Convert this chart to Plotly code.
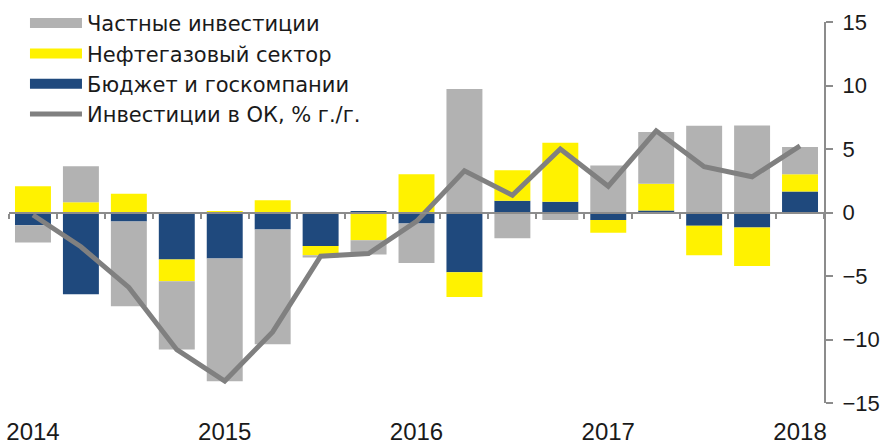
import plotly.graph_objects as go

quarters = ["2014Q1","2014Q2","2014Q3","2014Q4","2015Q1","2015Q2","2015Q3","2015Q4",
            "2016Q1","2016Q2","2016Q3","2016Q4","2017Q1","2017Q2","2017Q3","2017Q4","2018Q1"]
year_ticks = ["2014", "2015", "2016", "2017", "2018"]

budget = [-1.0, -6.44, -0.71, -3.71, -3.63, -1.34, -2.63, 0.1, -0.87, -4.7, 0.92, 0.84, -0.6, 0.16, -1.05, -1.18, 1.65]
oilgas = [2.07, 0.81, 1.47, -1.71, 0.08, 0.97, -0.74, -2.18, 3.02, -1.95, 2.41, 4.65, -1.0, 2.1, -2.31, -3.03, 1.37]
private = [-1.36, 2.84, -6.67, -5.36, -9.66, -9.04, -0.18, -1.13, -3.1, 9.72, -2.03, -0.6, 3.7, 4.07, 6.83, 6.86, 2.13]
fixed_inv = [-0.2, -2.7, -5.9, -10.8, -13.27, -9.4, -3.44, -3.23, -0.7, 3.28, 1.36, 5.0, 2.07, 6.43, 3.6, 2.81, 5.25]

names = ["Частные инвестиции", "Нефтегазовый сектор", "Бюджет и госкомпании", "Инвестиции в ОК, % г./г."]
C_GRAY, C_YEL, C_BLUE, C_LINE = "#B2B2B2", "#FFF200", "#1F497D", "#808080"
AX = "#8C8C8C"
TXT = "#1a1a1a"

xi = list(range(len(quarters)))
fig = go.Figure()
for vals, col in [(budget, C_BLUE), (oilgas, C_YEL), (private, C_GRAY)]:
    fig.add_trace(go.Bar(x=xi, y=vals, marker=dict(color=col, line=dict(width=0)),
                         showlegend=False))
fig.add_trace(go.Scatter(x=xi, y=fixed_inv, mode="lines", line=dict(color=C_LINE, width=5),
                         showlegend=False))
# legend entries
for i, (nm, col, w) in enumerate(zip(names, [C_GRAY, C_YEL, C_BLUE, C_LINE], [13, 13, 13, 5])):
    fig.add_trace(go.Scatter(x=[None], y=[None], mode="lines", name=nm,
                             line=dict(color=col, width=w), legendrank=i + 1))

# zero line with boundary ticks
fig.add_trace(go.Scatter(x=[None], y=[None], xaxis="x2", showlegend=False))

fig.update_layout(
    width=881, height=444,
    margin=dict(l=9, r=57, t=22, b=41, autoexpand=False),
    barmode="relative", bargap=0.25,
    plot_bgcolor="white", paper_bgcolor="white",
    font=dict(family="DejaVu Sans", size=21, color=TXT),
    legend=dict(x=0.0196, y=1.05, xanchor="left", yanchor="top", bgcolor="rgba(0,0,0,0)",
                font=dict(family="DejaVu Sans", size=21, color=TXT), itemwidth=52,
                tracegroupgap=0),
    xaxis=dict(range=[-0.5, 16.5], tickvals=[0, 4, 8, 12, 16], ticktext=year_ticks,
               showgrid=False, zeroline=False, showline=False, ticks="",
               tickfont=dict(family="Liberation Sans", size=24, color=TXT),
               ticklabelstandoff=12, ticklabeloverflow="allow"),
    xaxis2=dict(overlaying="x", anchor="free", position=0.5, range=[-0.5, 16.5],
                tickvals=[k - 0.5 for k in range(len(quarters) + 1)],
                showticklabels=False, ticks="outside", ticklen=5, tickwidth=1.5,
                tickcolor=AX, showline=True, linecolor=AX, linewidth=2,
                showgrid=False, zeroline=False, side="bottom", layer="above traces"),
    yaxis=dict(range=[-15, 15], side="right", tickvals=[-15, -10, -5, 0, 5, 10, 15],
               showgrid=False, zeroline=False, showline=True, linecolor=AX, linewidth=2,
               ticks="outside", ticklen=7, tickwidth=1.5, tickcolor=AX,
               tickfont=dict(family="Liberation Sans", size=22, color=TXT),
               ticklabelstandoff=5, ticklabeloverflow="allow"),
)
fig.write_html("out.html", config={"displayModeBar": False},
               post_script="document.body.style.margin='0';")
